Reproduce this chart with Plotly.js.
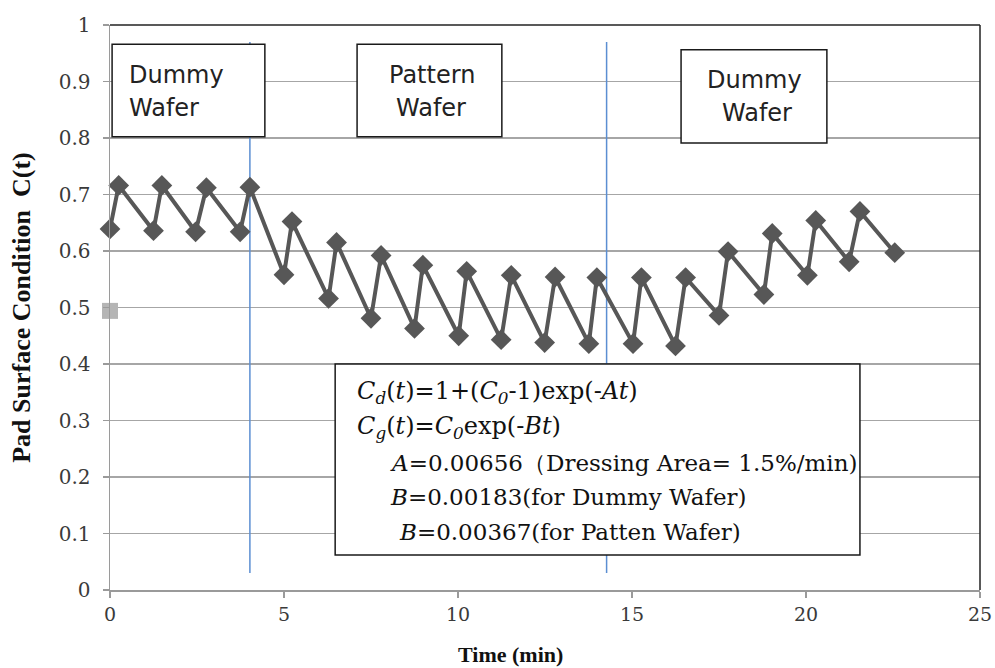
<!DOCTYPE html>
<html>
<head>
<meta charset="utf-8">
<script src="https://cdn.plot.ly/plotly-3.0.1.min.js"></script>
<style>html,body{margin:0;padding:0;background:#fff;}#chart{width:995px;height:668px;}</style>
</head>
<body>
<div id="chart"></div>
<script>
// Measured series: pad surface condition C(t) vs time (min)
const timeMin = [0, 0.25, 1.25, 1.49, 2.46, 2.77, 3.74, 4.02, 5.0, 5.23, 6.28, 6.51, 7.5, 7.79, 8.75, 8.99,
  10.02, 10.25, 11.24, 11.53, 12.49, 12.79, 13.76, 13.99, 15.03, 15.27, 16.25, 16.54, 17.5, 17.76,
  18.79, 19.03, 20.04, 20.28, 21.24, 21.55, 22.55];
const condition = [0.639, 0.716, 0.636, 0.716, 0.634, 0.712, 0.634, 0.713, 0.558, 0.652, 0.516, 0.615, 0.481, 0.592, 0.463, 0.575,
  0.450, 0.564, 0.443, 0.557, 0.438, 0.554, 0.436, 0.553, 0.436, 0.553, 0.432, 0.553, 0.486, 0.599,
  0.523, 0.631, 0.557, 0.654, 0.581, 0.670, 0.597];
// Initial condition marker
const initTime = [0];
const initCond = [0.494];
// Phase boundaries (min)
const phaseBounds = [4.02, 14.27];
// Ticks
const xTickVals = [0, 5, 10, 15, 20, 25];
const xTickText = ["0", "5", "10", "15", "20", "25"];
const yTickVals = [0, 0.1, 0.2, 0.3, 0.4, 0.5, 0.6, 0.7, 0.8, 0.9, 1];
const yTickText = ["0", "0.1", "0.2", "0.3", "0.4", "0.5", "0.6", "0.7", "0.8", "0.9", "1"];

const serif = "DejaVu Serif, Liberation Serif, serif";
const sans = "DejaVu Sans, Noto Sans, sans-serif";

const traces = [
  {x: timeMin, y: condition, type: "scatter", mode: "lines+markers",
   line: {color: "#575757", width: 4},
   marker: {symbol: "diamond", size: 16, color: "#575757"},
   cliponaxis: false, hoverinfo: "skip", showlegend: false},
  {x: initTime, y: initCond, type: "scatter", mode: "markers",
   marker: {symbol: "square", size: 16, color: "#b5b5b5"},
   cliponaxis: false, hoverinfo: "skip", showlegend: false}
];

const shapes = [];
phaseBounds.forEach(b => shapes.push({type: "line", xref: "x", yref: "y", x0: b, x1: b, y0: 0.03, y1: 0.97,
  line: {color: "#5b8ed2", width: 1.5}, layer: "between"}));
const boxLine = {color: "#1a1a1a", width: 1.5};
shapes.push({type: "rect", xref: "x", yref: "y", x0: 0.06, x1: 4.45, y0: 0.802, y1: 0.966, fillcolor: "#fff", line: boxLine});
shapes.push({type: "rect", xref: "x", yref: "y", x0: 7.10, x1: 11.26, y0: 0.802, y1: 0.966, fillcolor: "#fff", line: boxLine});
shapes.push({type: "rect", xref: "x", yref: "y", x0: 16.41, x1: 20.60, y0: 0.791, y1: 0.956, fillcolor: "#fff", line: boxLine});
shapes.push({type: "rect", xref: "x", yref: "y", x0: 6.47, x1: 21.55, y0: 0.062, y1: 0.40, fillcolor: "#fff", line: boxLine});
// frame top and right
shapes.push({type: "line", xref: "paper", yref: "paper", x0: 0, x1: 1, y0: 1, y1: 1, line: {color: "#222", width: 1.5}});
shapes.push({type: "line", xref: "paper", yref: "paper", x0: 1, x1: 1, y0: 0, y1: 1, line: {color: "#222", width: 1.5}});

const boxFont = {family: sans, size: 24, color: "#222"};
const fFont = {family: serif, size: 24, color: "#111"};
const fFont2 = {family: serif, size: 23, color: "#111"};
function ann(x, y, text, font, xanchor) {
  return {x: x, y: y, xref: "x", yref: "y", text: text, showarrow: false, font: font,
          xanchor: xanchor || "center", yanchor: "middle", align: xanchor === "left" ? "left" : "center"};
}
const annotations = [
  ann(0.49, 0.912, "Dummy", boxFont, "left"),
  ann(0.49, 0.853, "Wafer", boxFont, "left"),
  ann(9.25, 0.912, "Pattern", boxFont),
  ann(9.22, 0.853, "Wafer", boxFont),
  ann(18.51, 0.903, "Dummy", boxFont),
  ann(18.59, 0.844, "Wafer", boxFont),
  ann(7.04, 0.350, "<i>C</i><sub><i>d</i></sub>(<i>t</i>)=1+(<i>C</i><sub><i>0</i></sub>-1)exp(-<i>At</i>)", fFont, "left"),
  ann(7.04, 0.288, "<i>C</i><sub><i>g</i></sub>(<i>t</i>)=<i>C</i><sub><i>0</i></sub>exp(-<i>Bt</i>)", fFont, "left"),
  ann(7.99, 0.225, "<i>A</i>=0.00656（Dressing Area= 1.5%/min)", fFont2, "left"),
  ann(7.99, 0.165, "<i>B</i>=0.00183(for Dummy Wafer)", fFont2, "left"),
  ann(8.25, 0.103, "<i>B</i>=0.00367(for Patten Wafer)", fFont2, "left"),
  {x: 0.46, y: -0.115, xref: "paper", yref: "paper", text: "<b>Time (min)</b>", showarrow: false,
   font: {family: "Liberation Serif, serif", size: 22, color: "#111"}, xanchor: "center", yanchor: "middle"}
];

const layout = {
  width: 995, height: 668,
  margin: {l: 110, r: 15, t: 25, b: 78},
  paper_bgcolor: "#fff", plot_bgcolor: "#fff",
  showlegend: false,
  xaxis: {range: [0, 25], tickvals: xTickVals, ticktext: xTickText, showgrid: false, zeroline: false,
    showline: true, linecolor: "#9a9a9a", linewidth: 1.5, ticks: "outside", ticklen: 6, tickcolor: "#9a9a9a", tickwidth: 1.5,
    ticklabelstandoff: 1,
    tickfont: {family: serif, size: 19, color: "#3a3a3a"}},
  yaxis: {range: [0, 1], tickvals: yTickVals, ticktext: yTickText, showgrid: true, gridcolor: "#a6a6a6", gridwidth: 1.5,
    zeroline: false, showline: true, linecolor: "#9a9a9a", linewidth: 1.5, ticks: "outside", ticklen: 6, tickcolor: "#9a9a9a", tickwidth: 1.5,
    ticklabelstandoff: 8,
    tickfont: {family: serif, size: 20, color: "#3a3a3a"},
    title: {text: "<b>Pad Surface Condition  C(t)</b>", font: {family: "Liberation Serif, serif", size: 26, color: "#111"}, standoff: 20}},
  shapes: shapes,
  annotations: annotations
};

Plotly.newPlot("chart", traces, layout, {displayModeBar: false, staticPlot: true});
</script>
</body>
</html>
